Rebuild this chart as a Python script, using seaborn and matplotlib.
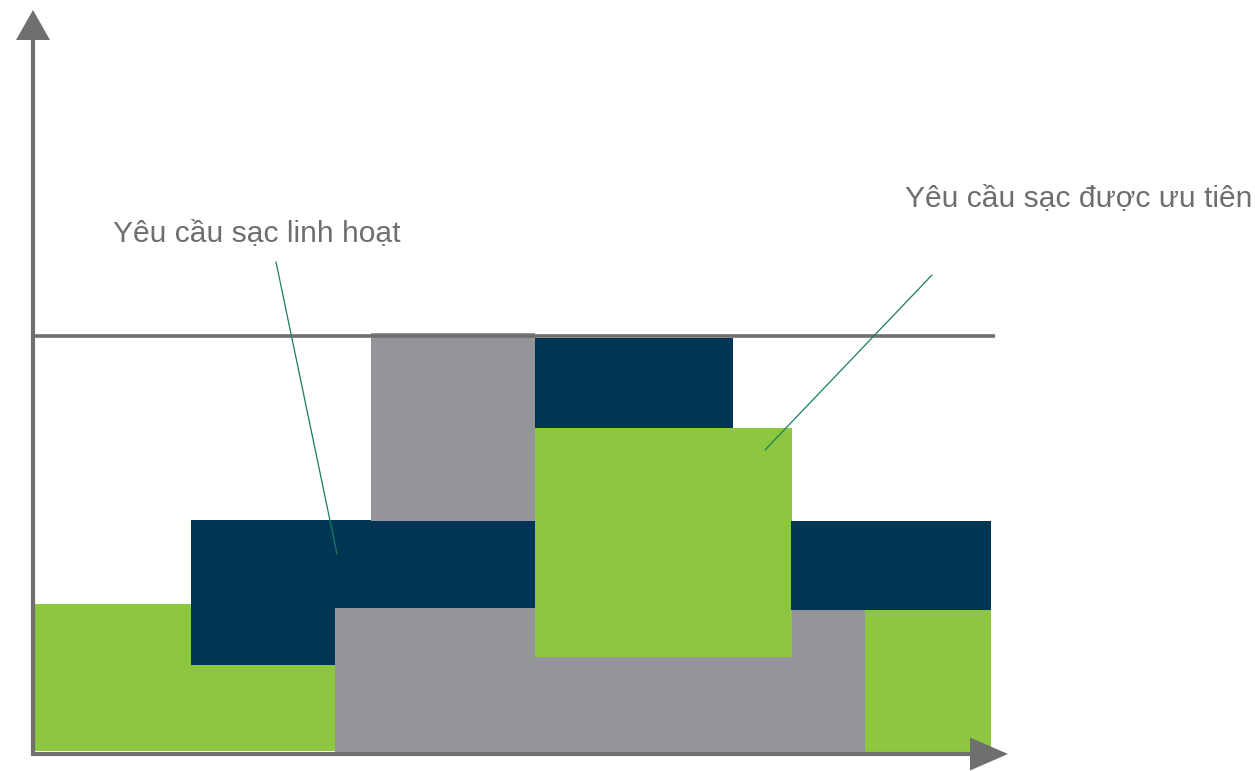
import matplotlib
matplotlib.use("Agg")
import matplotlib.pyplot as plt
from matplotlib.patches import Polygon
import seaborn as sns

# ---- data (schematic units: x = time, y = charging power) ----
block_series = ["linh_hoat", "linh_hoat_top", "uu_tien", "co_dinh", "co_dinh_top",
                "linh_hoat2", "uu_tien2", "uu_tien3"]
block_start = [0.1, 15.8, 30.2, 33.8, 50.2, 50.2, 75.8, 83.2]
block_end = [30.2, 50.2, 83.2, 50.2, 70.0, 75.9, 95.8, 95.8]
block_bottom = [0.3, 8.9, 0.2, 23.3, 32.6, 9.7, 14.4, 0.2]
block_top = [15.0, 23.4, 14.6, 42.1, 41.6, 32.6, 23.3, 14.4]
block_kind = ["green", "navy", "gray", "gray", "navy", "green", "navy", "green"]

limit_level = 41.8
limit_end = 96.2
x_axis_end = 97.5
y_axis_end = 74.4

labels = ["Yêu cầu sạc linh hoạt", "Yêu cầu sạc được ưu tiên"]
label_x = [8.0, 87.2]
label_y = [51.3, 54.8]
leader_from = [(24.3, 49.2), (89.9, 47.9)]
leader_to = [(30.4, 20.0), (73.2, 30.4)]

colors = {"green": "#8dc63f", "navy": "#003554", "gray": "#939598"}
axis_color = "#6f6f6f"
text_color = "#6d6e71"
leader_color = "#1a7d5e"

sns.set_theme(style="white")
plt.rcParams["font.family"] = ["Liberation Sans", "DejaVu Sans"]

fig = plt.figure(figsize=(12.55, 7.71), dpi=100)
ax = fig.add_axes([0, 0, 1, 1])
ax.set_xlim(-3.3, 122.2)
ax.set_ylim(-1.7, 75.4)
ax.axis("off")

for s, e, b, t, k in zip(block_start, block_end, block_bottom, block_top, block_kind):
    ax.bar(s, t - b, width=e - s, bottom=b, align="edge", color=colors[k],
           edgecolor="none", linewidth=0, zorder=2)

# limit line
ax.plot([0, limit_end], [limit_level, limit_level], color=axis_color, lw=2.6,
        solid_capstyle="butt", zorder=3)

# axes with arrows
head_len = 3.0
head_half = 1.7
ax.plot([0, 0], [-0.2, y_axis_end - head_len], color=axis_color, lw=3.0,
        solid_capstyle="butt", zorder=4)
ax.add_patch(Polygon([(-head_half, y_axis_end - head_len), (head_half, y_axis_end - head_len),
                      (0, y_axis_end)], closed=True, color=axis_color, lw=0, zorder=4))
ax.plot([-0.2, x_axis_end - 3.8], [0, 0], color=axis_color, lw=3.0,
        solid_capstyle="butt", zorder=4)
ax.add_patch(Polygon([(x_axis_end - 3.8, -1.65), (x_axis_end - 3.8, 1.65),
                      (x_axis_end, 0)], closed=True, color=axis_color, lw=0, zorder=4))

# labels and leaders
for txt, x, y in zip(labels, label_x, label_y):
    ax.text(x, y, txt, fontsize=21.6, color=text_color, ha="left", va="baseline", zorder=5)
for (x0, y0), (x1, y1) in zip(leader_from, leader_to):
    ax.plot([x0, x1], [y0, y1], color=leader_color, lw=0.9, zorder=5)

fig.savefig("out.png", dpi=100)
